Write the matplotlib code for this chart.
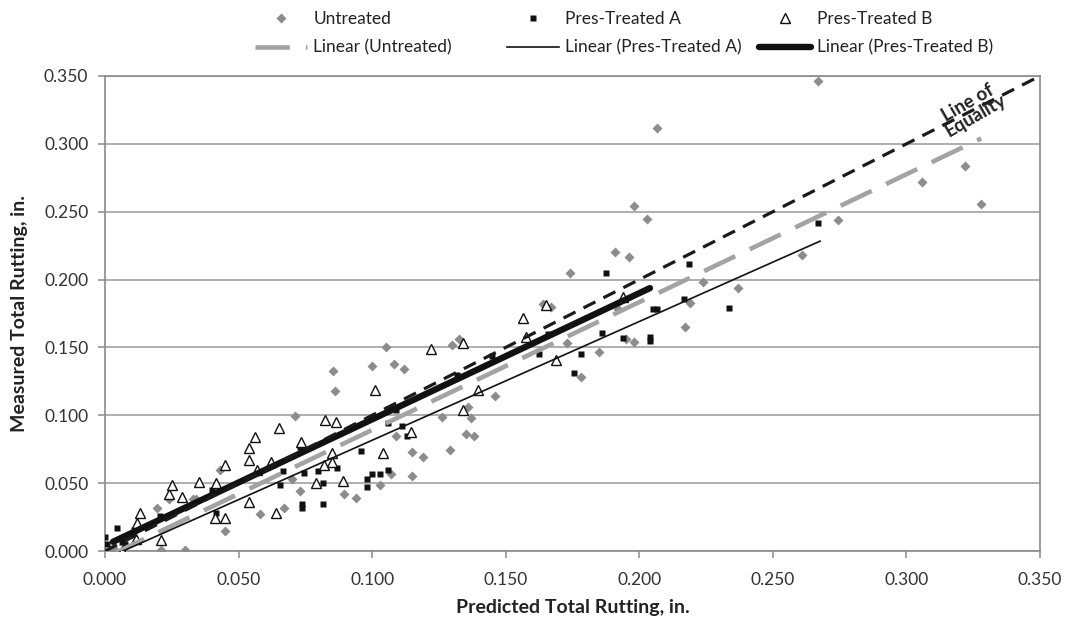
import matplotlib
matplotlib.use("Agg")
import matplotlib.pyplot as plt
import numpy as np

plt.rcParams['font.family'] = ['Lato', 'DejaVu Sans']

# ---- data ----
untreated_x = [0.003, 0.021, 0.030, 0.0195, 0.024, 0.033, 0.034, 0.043, 0.045, 0.058,
               0.067, 0.070, 0.073, 0.0895, 0.094, 0.071, 0.0855, 0.086, 0.100, 0.105,
               0.108, 0.112, 0.130, 0.1325, 0.126, 0.136, 0.137, 0.146, 0.135, 0.138,
               0.129, 0.115, 0.119, 0.115, 0.103, 0.107, 0.109, 0.164, 0.167, 0.174,
               0.173, 0.185, 0.192, 0.195, 0.198, 0.178, 0.191, 0.196, 0.198, 0.203,
               0.2066, 0.217, 0.219, 0.224, 0.237, 0.261, 0.2744, 0.267, 0.306, 0.322,
               0.328]
untreated_y = [0.002, 0.001, 0.001, 0.032, 0.038, 0.038, 0.038, 0.060, 0.015, 0.0275,
               0.032, 0.053, 0.044, 0.042, 0.039, 0.0995, 0.133, 0.118, 0.136, 0.150,
               0.138, 0.134, 0.152, 0.156, 0.099, 0.106, 0.098, 0.114, 0.086, 0.085,
               0.0745, 0.073, 0.069, 0.055, 0.049, 0.057, 0.085, 0.182, 0.180, 0.205,
               0.153, 0.147, 0.178, 0.156, 0.154, 0.128, 0.220, 0.217, 0.254, 0.245,
               0.312, 0.165, 0.183, 0.198, 0.194, 0.218, 0.244, 0.346, 0.272, 0.284,
               0.256]

treated_a_x = [0.000, 0.0007, 0.0045, 0.0064, 0.0075, 0.011, 0.0206, 0.040, 0.0416, 0.0655,
               0.0666, 0.073, 0.0745, 0.0737, 0.0737, 0.0797, 0.0816, 0.0816, 0.087, 0.096,
               0.098, 0.098, 0.100, 0.103, 0.106, 0.106, 0.106, 0.109, 0.111, 0.113,
               0.1317, 0.145, 0.1625, 0.166, 0.1756, 0.178, 0.186, 0.1875, 0.194, 0.204,
               0.204, 0.205, 0.2066, 0.2167, 0.2187, 0.2336, 0.267]
treated_a_y = [0.010, 0.005, 0.017, 0.0066, 0.005, 0.0155, 0.026, 0.045, 0.028, 0.0487,
               0.059, 0.077, 0.0575, 0.035, 0.032, 0.059, 0.050, 0.035, 0.061, 0.074,
               0.053, 0.047, 0.057, 0.057, 0.060, 0.094, 0.105, 0.104, 0.092, 0.085,
               0.130, 0.144, 0.145, 0.160, 0.131, 0.145, 0.161, 0.205, 0.157, 0.158,
               0.155, 0.178, 0.178, 0.186, 0.2115, 0.179, 0.242]

treated_b_x = [0.0064, 0.0116, 0.012, 0.013, 0.021, 0.024, 0.025, 0.029, 0.035, 0.0416,
               0.041, 0.045, 0.045, 0.054, 0.054, 0.054, 0.056, 0.057, 0.062, 0.064,
               0.065, 0.0734, 0.079, 0.082, 0.0824, 0.085, 0.085, 0.0865, 0.089, 0.101,
               0.104, 0.1146, 0.122, 0.134, 0.134, 0.1397, 0.1565, 0.1576, 0.165, 0.169,
               0.194]
treated_b_y = [0.000, 0.009, 0.021, 0.028, 0.008, 0.042, 0.049, 0.040, 0.051, 0.050,
               0.024, 0.024, 0.0634, 0.036, 0.067, 0.076, 0.084, 0.060, 0.0655, 0.028,
               0.091, 0.080, 0.050, 0.0634, 0.0965, 0.072, 0.0655, 0.095, 0.0515, 0.119,
               0.072, 0.088, 0.149, 0.153, 0.104, 0.119, 0.172, 0.158, 0.181, 0.141,
               0.187]

# linear trendlines (slope, intercept, x range)
trend_slope = [0.942, 0.875, 0.930]
trend_intercept = [-0.005, -0.0059, 0.004]
trend_xmin = [0.003, 0.000, 0.003]
trend_xmax = [0.328, 0.2677, 0.204]

equality_x = [0.0, 0.35]
equality_y = [0.0, 0.35]

tick_values = [0.0, 0.05, 0.10, 0.15, 0.20, 0.25, 0.30, 0.35]
tick_labels = ['0.000', '0.050', '0.100', '0.150', '0.200', '0.250', '0.300', '0.350']

labels_markers = ['Untreated', 'Pres-Treated A', 'Pres-Treated B']
labels_lines = ['Linear (Untreated)', 'Linear (Pres-Treated A)', 'Linear (Pres-Treated B)']

# ---- figure ----
W, H = 1070, 632
fig = plt.figure(figsize=(W / 100, H / 100), dpi=100)
ax = fig.add_axes([105 / W, (H - 551) / H, 935 / W, 475 / H])

gray_pt = '#8c8c8c'
gray_ln = '#a3a3a3'
frame = '#8a8a8a'

ax.set_xlim(0, 0.35)
ax.set_ylim(0, 0.35)
ax.set_xticks(tick_values)
ax.set_xticklabels(tick_labels)
ax.set_yticks(tick_values)
ax.set_yticklabels(tick_labels)
ax.yaxis.grid(True, color='#a8a8a8', lw=1.3)
ax.set_axisbelow(True)
for s in ax.spines.values():
    s.set_color(frame)
    s.set_linewidth(1.2)
ax.tick_params(axis='both', direction='out', length=5, width=1.1, color=frame,
               labelsize=12.5, labelcolor='#333333')
ax.tick_params(axis='y', pad=7)
ax.tick_params(axis='x', pad=10)

m_u, = ax.plot(untreated_x, untreated_y, ls='none', marker='D', ms=5.3, color=gray_pt,
               mec='none', zorder=3)
m_a, = ax.plot(treated_a_x, treated_a_y, ls='none', marker='s', ms=4.8, color='#111111',
               mec='none', zorder=3)
m_b, = ax.plot(treated_b_x, treated_b_y, ls='none', marker='^', ms=7.5, mfc='white',
               mec='#111111', mew=1.0, zorder=3)

styles = [dict(color=gray_ln, lw=3.3, dashes=(7.5, 3.5), dash_capstyle='butt'),
          dict(color='#111111', lw=1.2),
          dict(color='#111111', lw=4.6, solid_capstyle='round')]
line_handles = []
for k in range(3):
    xs = np.array([trend_xmin[k], trend_xmax[k]])
    ys = trend_slope[k] * xs + trend_intercept[k]
    h, = ax.plot(xs, ys, zorder=4, **styles[k])
    line_handles.append(h)

ax.plot(equality_x, equality_y, color='#1a1a1a', lw=2.3, dashes=(4.2, 2.8), zorder=5)

ax.text(0.3245, 0.3255, 'Line of\nEquality', rotation=30, rotation_mode='anchor',
        ha='center', va='center', fontsize=13.5, fontweight='bold', color='#222222',
        linespacing=0.9, zorder=6)

ax.set_ylabel('Measured Total Rutting, in.', fontsize=14, fontweight='bold',
              color='#222222')
ax.set_xlabel('Predicted Total Rutting, in.', fontsize=14, fontweight='bold',
              color='#222222', labelpad=8)
ax.yaxis.set_label_coords(-(105 - 28) / 935, 0.5)

# legend: three columns placed at reference positions
marker_handles = [m_u, m_a, m_b]
col_left = [255, 507, 759]
for k in range(3):
    fig.legend([marker_handles[k], line_handles[k]], [labels_markers[k], labels_lines[k]],
               loc='upper left', bbox_to_anchor=(col_left[k] / W, 1 - 11 / H),
               frameon=False, fontsize=12.5, handlelength=3.0, handletextpad=0.35,
               labelspacing=0.72, borderpad=0, borderaxespad=0, numpoints=1,
               labelcolor='#222222')

fig.savefig('out.png', dpi=100, facecolor='white')
